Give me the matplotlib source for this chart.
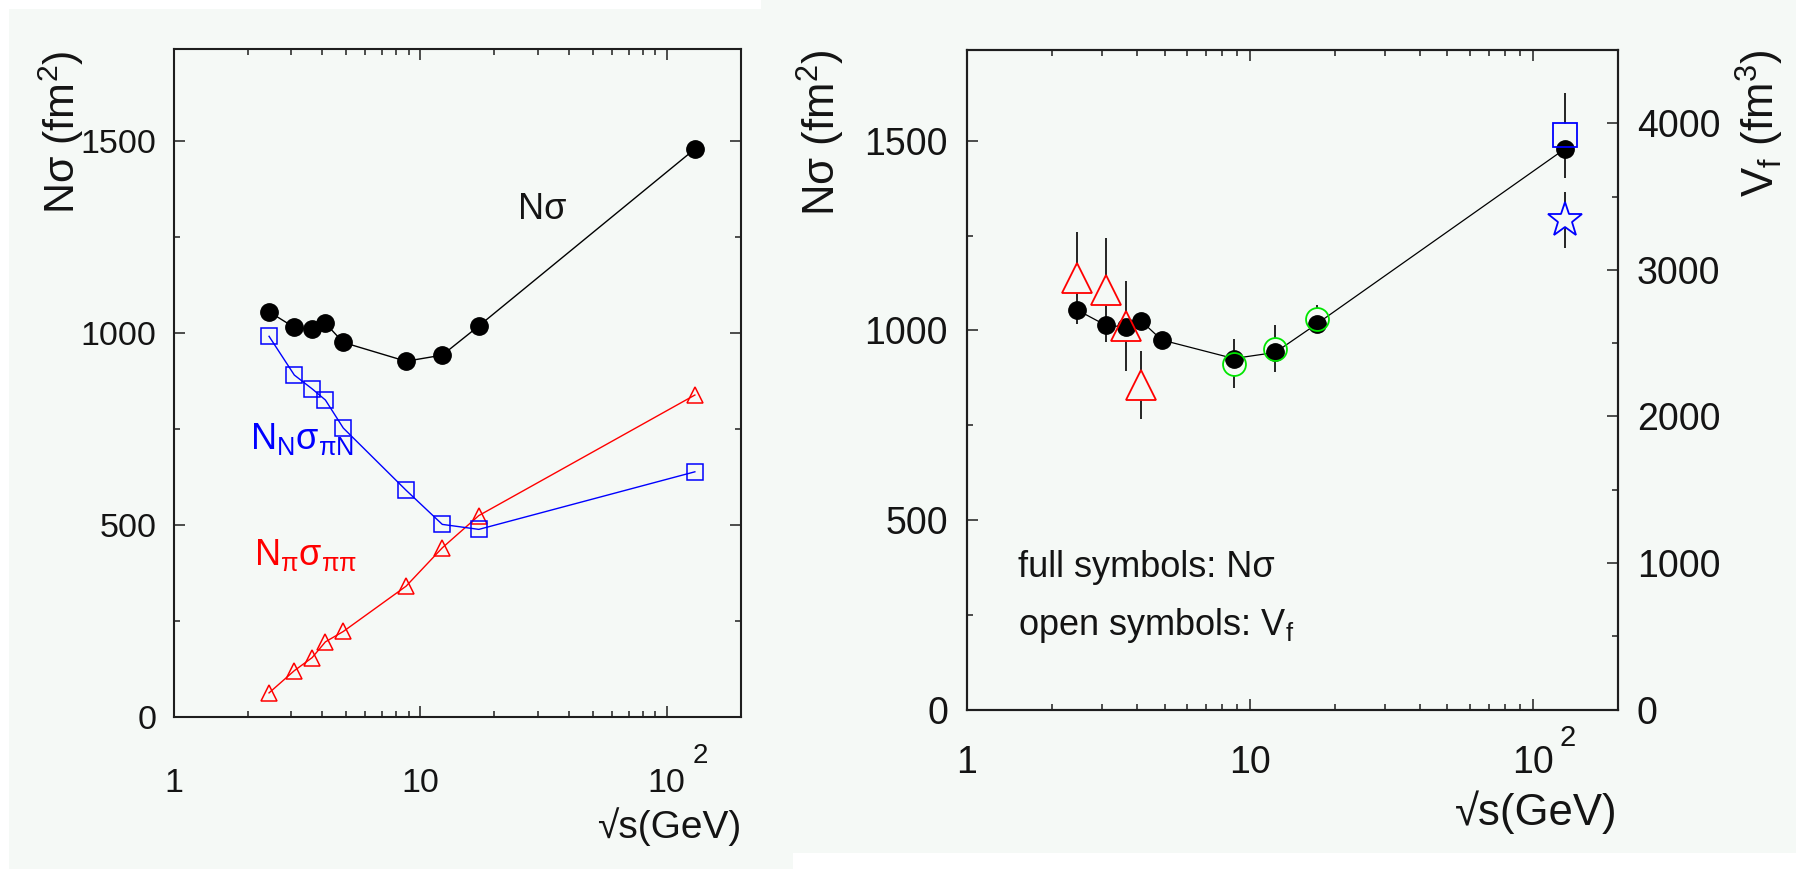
import matplotlib
matplotlib.use("Agg")
import matplotlib.pyplot as plt
from matplotlib.patches import Rectangle
from matplotlib.ticker import FixedLocator, NullFormatter

plt.rcParams.update({
    "font.family": ["Liberation Sans", "DejaVu Sans"],
    "mathtext.fontset": "custom",
    "mathtext.rm": "Liberation Sans",
    "mathtext.it": "Liberation Sans",
    "mathtext.bf": "Liberation Sans:bold",
    "mathtext.default": "regular",
})

# ---------------- data ----------------
sqrt_s = [2.44, 3.09, 3.65, 4.13, 4.88, 8.77, 12.3, 17.3, 130]
N_sigma = [1055, 1014, 1009, 1025, 975, 926, 942, 1018, 1479]
NN_sigma_piN = [991, 890, 854, 825, 752, 590, 501, 488, 638]
Npi_sigma_pipi = [62, 120, 154, 195, 222, 340, 440, 524, 838]

ags_x = [2.44, 3.09, 3.65, 4.13]
ags_Vf = [2945, 2862, 2618, 2212]
ags_err = [313, 352, 306, 233]

sps_x = [8.77, 12.3, 17.3]
sps_Vf = [2360, 2463, 2667]
sps_err = [167, 159, 91]

rhic_x = [130]
rhic_sq_Vf = [3920]
rhic_sq_err = [290]
rhic_star_Vf = [3340]
rhic_star_err = [190]

x_major = [1, 10, 100]
x_major_labels = ["1", "10", "10"]
x_minor = [2, 3, 4, 5, 6, 7, 8, 9, 20, 30, 40, 50, 60, 70, 80, 90]
y_major = [0, 500, 1000, 1500]
y_minor = [250, 750, 1250]
vf_major = [0, 1000, 2000, 3000, 4000]
vf_minor = [500, 1500, 2500, 3500]

BG = "#f5f9f6"
SPINE = "#1e1e1e"
TXT = "#141414"
RED = "#ff0000"
BLUE = "#0000ff"
GREEN = "#00e600"

W, H = 1796, 869
fig = plt.figure(figsize=(W / 100, H / 100), dpi=100, facecolor=BG)

# white margins of the original composite
for (x0, y0, w, h) in [(0, 860, 761, 9), (0, 0, 9, 869), (793, 0, 1003, 16)]:
    fig.add_artist(Rectangle((x0 / W, y0 / H), w / W, h / H, transform=fig.transFigure,
                             facecolor="white", edgecolor="none", zorder=-5))


def style_axes(ax, fs, xpad, ypad, right_ticks=True):
    ax.set_xscale("log")
    ax.set_facecolor(BG)
    for s in ax.spines.values():
        s.set_linewidth(1.5)
        s.set_color(SPINE)
    ax.set_xticks(x_major, labels=x_major_labels)
    ax.xaxis.set_minor_locator(FixedLocator(x_minor))
    ax.xaxis.set_minor_formatter(NullFormatter())
    ax.set_yticks(y_major)
    ax.yaxis.set_minor_locator(FixedLocator(y_minor))
    ax.yaxis.set_minor_formatter(NullFormatter())
    ax.tick_params(which="both", direction="in", top=True, right=right_ticks,
                   color=SPINE, width=1.1, labelcolor=TXT, labelsize=fs)
    ax.tick_params(which="major", length=8)
    ax.tick_params(which="minor", length=4.5)
    ax.tick_params(axis="x", which="major", pad=xpad)
    ax.tick_params(axis="y", which="major", pad=ypad)
    plt.setp(ax.get_xticklabels(), va="baseline")
    ax.set_xlim(1, 200)
    ax.set_ylim(0, 1740)


# ---------------- left panel ----------------
axL = fig.add_axes([173.5 / W, 1 - 716.7 / H, 567.5 / W, 667.9 / H])
style_axes(axL, 24.5, 54.2, 12.2)
axL.plot(sqrt_s, Npi_sigma_pipi, color=RED, lw=1.0, marker="^", ms=12,
         mfc="none", mec=RED, mew=1.1, zorder=2)
axL.plot(sqrt_s, NN_sigma_piN, color=BLUE, lw=1.0, marker="s", ms=12,
         mfc="none", mec=BLUE, mew=1.1, zorder=3)
axL.plot(sqrt_s, N_sigma, color="black", lw=1.0, marker="o", ms=12.5,
         mfc="black", mec="black", zorder=4)
axL.annotate("2", xy=(100, 0), xycoords=("data", "axes fraction"),
             xytext=(18.7, -33.3), textcoords="offset points",
             ha="left", va="baseline", fontsize=20, color=TXT, annotation_clip=False)

axL.text(0.607, 0.745, "Nσ", transform=axL.transAxes, fontsize=26, color=TXT,
         ha="left", va="baseline")
axL.text(0.135, 0.401, r"$\mathregular{N_{N}σ_{πN}}$", transform=axL.transAxes,
         fontsize=26, color=BLUE, ha="left", va="baseline")
axL.text(0.142, 0.227, r"$\mathregular{N_{π}σ_{ππ}}$", transform=axL.transAxes,
         fontsize=26, color=RED, ha="left", va="baseline")

fig.text(61 / W, 1 - 50 / H, r"Nσ (fm$^{2}$)", rotation=90, ha="center", va="top",
         fontsize=31, color=TXT)
fig.text(741 / W, 1 - 827 / H, "√s(GeV)", ha="right", va="center",
         fontsize=28, color=TXT)

# ---------------- right panel ----------------
axR = fig.add_axes([967 / W, 1 - 709.5 / H, 650.7 / W, 659.5 / H])
style_axes(axR, 27, 45.6, 13.7, right_ticks=False)
axR.annotate("2", xy=(100, 0), xycoords=("data", "axes fraction"),
             xytext=(19.4, -26.4), textcoords="offset points",
             ha="left", va="baseline", fontsize=21, color=TXT, annotation_clip=False)

axV = axR.twinx()
axV.patch.set_visible(False)
for s in axV.spines.values():
    s.set_linewidth(1.5)
    s.set_color(SPINE)
axV.set_yticks(vf_major)
axV.yaxis.set_minor_locator(FixedLocator(vf_minor))
axV.yaxis.set_minor_formatter(NullFormatter())
axV.tick_params(which="both", direction="in", color=SPINE, width=1.1,
                labelcolor=TXT, labelsize=27)
axV.tick_params(which="major", length=8, pad=13.7)
axV.tick_params(which="minor", length=4.5)

# error bars (behind everything)
for xs, ys, es in [(ags_x, ags_Vf, ags_err), (sps_x, sps_Vf, sps_err),
                   (rhic_x, rhic_sq_Vf, rhic_sq_err), (rhic_x, rhic_star_Vf, rhic_star_err)]:
    axV.errorbar(xs, ys, yerr=es, fmt="none", ecolor="black", elinewidth=1.2,
                 capsize=0, zorder=1)

open_sets = [
    (ags_x, ags_Vf, "^", 21, RED),
    (sps_x, sps_Vf, "o", 16.5, GREEN),
    (rhic_x, rhic_sq_Vf, "s", 17, BLUE),
    (rhic_x, rhic_star_Vf, "*", 26, BLUE),
]
# background-filled bodies of the open markers
for xs, ys, m, ms, c in open_sets:
    axV.plot(xs, ys, ls="none", marker=m, ms=ms, mfc=BG, mec="none", zorder=2)
# full symbols: N sigma (left scale)
axV.plot(sqrt_s, N_sigma, color="black", lw=0.9, marker="o", ms=12.5, mfc="black",
         mec="black", transform=axR.transData, zorder=3)
# open symbol outlines
for xs, ys, m, ms, c in open_sets:
    axV.plot(xs, ys, ls="none", marker=m, ms=ms, mfc="none", mec=c, mew=1.3, zorder=4)

axV.set_xlim(1, 200)
axV.set_ylim(0, 4500)
axR.set_xlim(1, 200)
axR.set_ylim(0, 1740)

axR.text(0.0784, 0.2009, "full symbols: Nσ", transform=axR.transAxes, fontsize=26,
         color=TXT, ha="left", va="baseline")
axR.text(0.0784, 0.113, r"open symbols: V$_{f}$", transform=axR.transAxes, fontsize=26,
         color=TXT, ha="left", va="baseline")

fig.text(820.5 / W, 1 - 50 / H, r"Nσ (fm$^{2}$)", rotation=90, ha="center", va="top",
         fontsize=31.5, color=TXT)
fig.text(1759.5 / W, 1 - 50 / H, r"V$_{f}$ (fm$^{3}$)", rotation=90, ha="center", va="top",
         fontsize=31.5, color=TXT)
fig.text(1617.7 / W, 1 - 812 / H, "√s(GeV)", ha="right", va="center",
         fontsize=31.5, color=TXT)

fig.savefig("out.png", dpi=100, facecolor=BG)
